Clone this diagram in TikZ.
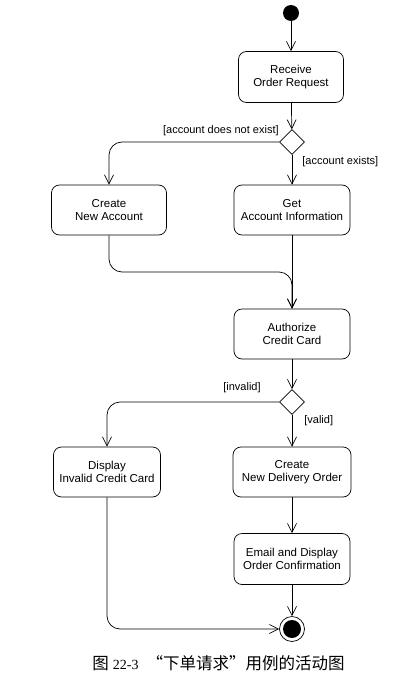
\documentclass[tikz,border=0pt]{standalone}
\usepackage{fontspec}
\setmainfont{Liberation Sans}
\newfontfamily\cjk{Noto Sans CJK SC}
\newfontfamily\capnum{Liberation Serif}
\usetikzlibrary{shapes.geometric,arrows.meta}

\begin{document}
\begin{tikzpicture}[x=1pt,y=-1pt,line width=0.7pt,
  action/.style={draw, rounded corners=8pt, align=center, minimum width=116pt,
    minimum height=50pt, font=\fontsize{11.5}{13}\selectfont},
  choice/.style={draw, diamond, minimum size=25pt, inner sep=0pt},
  guard/.style={font=\fontsize{11}{13}\selectfont, inner sep=0pt},
  flow/.style={draw, -{Straight Barb[length=9pt,width=9pt]}, rounded corners=13pt}]
  \useasboundingbox (0,0) rectangle (414,685);
  % nodes
  \node[fill, circle, minimum size=16pt, inner sep=0pt] (start) at (291,13) {};
  \node[action, minimum width=105pt, minimum height=51pt] (receive) at (291,77) {Receive\\Order Request};
  \node[choice] (d1) at (292,142) {};
  \node[action, minimum width=115pt] (newacc) at (109,210) {Create\\New Account};
  \node[action] (getacc) at (292,210) {Get\\Account Information};
  \coordinate (merge) at (292,272);
  \node[action] (auth) at (292,334) {Authorize\\Credit Card};
  \node[choice] (d2) at (292,402) {};
  \node[action, minimum width=107pt] (invalid) at (107,472) {Display\\Invalid Credit Card};
  \node[action, minimum width=118pt] (delivery) at (292,472) {Create\\New Delivery Order};
  \node[action, minimum height=51pt] (confirm) at (292,559) {Email and Display\\Order Confirmation};
  \node[circle, draw, minimum size=25pt, inner sep=0pt] (end) at (292,629) {};
  \fill (end) circle (9pt);
  % guards
  \node[guard, anchor=east] (gno) at (279,131) {[account does not exist]};
  \node[guard, anchor=west] (gyes) at (302,162) {[account exists]};
  \node[guard, anchor=east] (ginv) at (261,388) {[invalid]};
  \node[guard, anchor=west] (gval) at (304,421) {[valid]};
  % flows
  \draw[flow] (start) -- (receive);
  \draw[flow] (receive) -- (d1);
  \draw[flow] (d1.west) -| (newacc.north);
  \draw[flow] (d1) -- (getacc);
  \draw[flow] (newacc.south) |- (merge) -- (auth.north);
  \draw[flow] (getacc) -- (auth);
  \draw[flow] (auth) -- (d2);
  \draw[flow] (d2.west) -| (invalid.north);
  \draw[flow] (d2) -- (delivery);
  \draw[flow] (delivery) -- (confirm);
  \draw[flow] (confirm) -- (end);
  \draw[flow] (invalid.south) |- (end.west);
  % caption
  \node[font=\fontsize{16.5}{19}\selectfont, inner sep=0pt] (caption) at (218.5,663)
    {{\cjk 图}\hspace{4pt}{\capnum\fontsize{14}{17}\selectfont 22-3}\hspace{8pt}{\cjk “下单请求”用例的活动图}};
\end{tikzpicture}
\end{document}
